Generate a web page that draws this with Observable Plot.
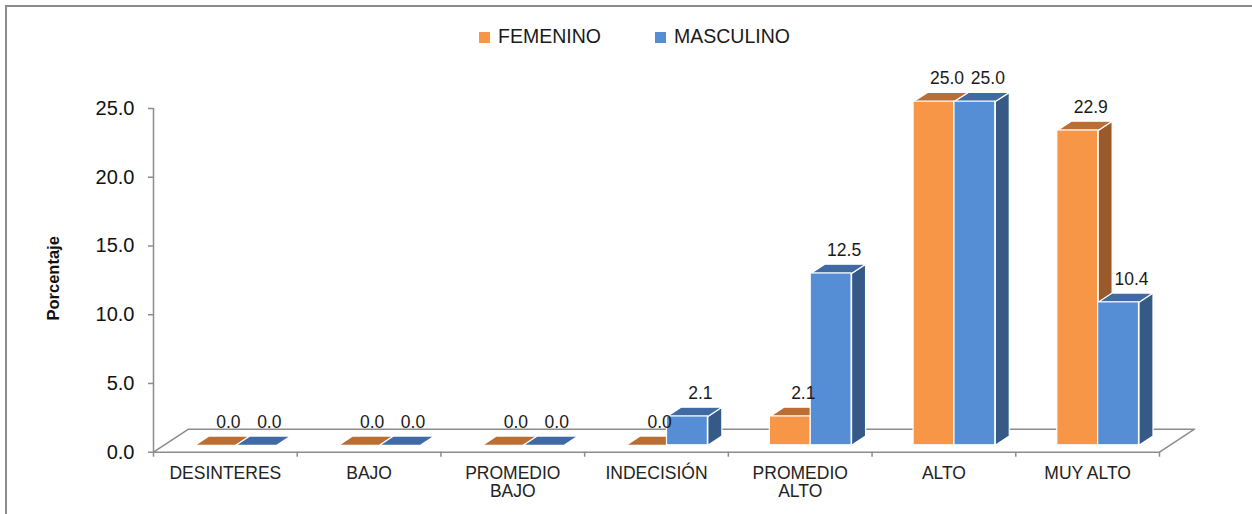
<!DOCTYPE html>
<html>
<head>
<meta charset="utf-8">
<script src="https://cdn.jsdelivr.net/npm/d3@7"></script>
<script src="https://cdn.jsdelivr.net/npm/@observablehq/plot@0.6"></script>
<style>
  html, body { margin: 0; padding: 0; background: #fff; }
  #wrap { position: relative; width: 1252px; height: 514px; overflow: hidden; font-family: "Liberation Sans", Arial, sans-serif; }
  #frame { position: absolute; left: 5px; top: 5px; width: 1300px; height: 600px; border-left: 2px solid #8c8c8c; border-top: 2px solid #8c8c8c; box-sizing: border-box; pointer-events: none; }
  #chart { position: absolute; left: 0; top: 0; }
  .leg { position: absolute; top: 27px; display: flex; align-items: center; font-size: 19.5px; line-height: 19px; color: #1a1a1a; white-space: nowrap; }
  .leg .sw { width: 11px; height: 11px; margin-right: 8px; margin-top: 1px; }
</style>
</head>
<body>
<div id="wrap">
  <div id="chart"></div>
  <div id="legend"></div>
  <div id="frame"></div>
</div>
<script>
// ---- data ----
const categories = ["DESINTERES", "BAJO", "PROMEDIO\nBAJO", "INDECISIÓN", "PROMEDIO\nALTO", "ALTO", "MUY ALTO"];
const series = ["FEMENINO", "MASCULINO"];
const femenino = [0.0, 0.0, 0.0, 0.0, 2.1, 25.0, 22.9];
const masculino = [0.0, 0.0, 0.0, 2.1, 12.5, 25.0, 10.4];
const yTicks = [0, 5, 10, 15, 20, 25];
const yLabel = "Porcentaje";

// ---- style ----
const frontColors = ["#F79646", "#558ED5"];
const topColors = ["#BA6E33", "#3F6AA4"];
const rightColors = ["#9A5A2A", "#365A88"];
const GRID = "#8c8c8c";
const W = 1252, H = 514;
const M = {left: 153, right: 93, top: 108, bottom: 62.3};
const yMax = yTicks[yTicks.length - 1];
const xDomain = [-0.5, categories.length - 0.5];

// pixel -> data unit converters (for 3D depth look)
const xu = (W - M.left - M.right) / categories.length;
const yu = (H - M.top - M.bottom) / yMax;
const px = p => p / xu, py = p => p / yu;
const FX = px(10.5), FY = py(6.9);   // bar front offset into depth
const DX = px(14), DY = py(9.2);     // bar depth
const BW = px(40.85);                // bar width
const FLX = px(35), FLY = py(23);    // floor depth

const valuesBySeries = [femenino, masculino];
const bars = [];
series.forEach((s, si) => {
  valuesBySeries[si].forEach((v, i) => {
    const x1 = i + (si === 0 ? -BW : 0) + FX;
    bars.push({s, si, i, v, x1, x2: x1 + BW, y1: FY, y2: v + FY});
  });
});

const rightPts = si => bars.filter(b => b.si === si).flatMap(b => [
  {id: b.i, x: b.x2, y: b.y1},
  {id: b.i, x: b.x2 + DX, y: b.y1 + DY},
  {id: b.i, x: b.x2 + DX, y: b.y2 + DY},
  {id: b.i, x: b.x2, y: b.y2}
]);
const topPts = si => bars.filter(b => b.si === si).flatMap(b => [
  {id: b.i, x: b.x1, y: b.y2},
  {id: b.i, x: b.x2, y: b.y2},
  {id: b.i, x: b.x2 + DX, y: b.y2 + DY},
  {id: b.i, x: b.x1 + DX, y: b.y2 + DY}
]);
const floorPts = [
  {x: xDomain[0], y: 0},
  {x: xDomain[1], y: 0},
  {x: xDomain[1] + FLX, y: FLY},
  {x: xDomain[0] + FLX, y: FLY}
];
const boundaries = d3.range(categories.length + 1).map(k => k - 0.5);
const catIdx = categories.map((c, i) => i);
const fmt = d3.format(".1f");

const barMarks = series.flatMap((s, si) => [
  Plot.line(rightPts(si), {x: "x", y: "y", z: "id", curve: "linear-closed", fill: rightColors[si], stroke: "white", strokeWidth: 1.2, strokeLinejoin: "round"}),
  Plot.line(topPts(si), {x: "x", y: "y", z: "id", curve: "linear-closed", fill: topColors[si], stroke: "white", strokeWidth: 1.2, strokeLinejoin: "round"}),
  Plot.rect(bars.filter(b => b.si === si), {x1: "x1", x2: "x2", y1: "y1", y2: "y2", fill: frontColors[si], stroke: "white", strokeWidth: 1.2})
]);

const chart = Plot.plot({
  width: W,
  height: H,
  marginLeft: M.left,
  marginRight: M.right,
  marginTop: M.top,
  marginBottom: M.bottom,
  style: {fontFamily: "'Liberation Sans', Arial, sans-serif", background: "transparent", overflow: "visible"},
  x: {type: "linear", domain: xDomain},
  y: {type: "linear", domain: [0, yMax]},
  marks: [
    Plot.line(floorPts, {x: "x", y: "y", curve: "linear-closed", fill: "none", stroke: GRID, strokeWidth: 1.5}),
    Plot.ruleX([xDomain[0]], {y1: 0, y2: yMax, stroke: GRID, strokeWidth: 1.5}),
    Plot.axisY({ticks: yTicks, tickFormat: fmt, tickSize: 5, tickPadding: 14, fontSize: 20, stroke: GRID, strokeWidth: 1.5, fill: "#111", label: null}),
    Plot.axisX({ticks: boundaries, tickSize: 5, tickFormat: () => "", stroke: GRID, strokeWidth: 1.5, label: null}),
    Plot.text(catIdx, {x: d => d, y: 0, text: d => categories[d], lineAnchor: "top", dy: 13.5, fontSize: 17.5, lineHeight: 1.05, fill: "#222"}),
    Plot.text([yLabel], {frameAnchor: "left", text: d => d, rotate: -90, dx: -100, dy: -2, textAnchor: "middle", fontWeight: "bold", fontSize: 16.5, fill: "#111"}),
    ...barMarks,
    Plot.text(bars, {x: b => (b.x1 + b.x2) / 2 + DX / 2, y: b => b.y2 + DY, text: b => fmt(b.v), dx: 6, dy: -14, fontSize: 17.5, fill: "#1a1a1a"})
  ]
});
document.getElementById("chart").appendChild(chart);

// legend (HTML, above the svg area)
const legendLeft = [479, 655];
const legend = document.getElementById("legend");
series.forEach((s, si) => {
  const item = document.createElement("div");
  item.className = "leg";
  item.style.left = legendLeft[si] + "px";
  const sw = document.createElement("span");
  sw.className = "sw";
  sw.style.background = frontColors[si];
  const t = document.createElement("span");
  t.textContent = s;
  item.appendChild(sw);
  item.appendChild(t);
  legend.appendChild(item);
});
</script>
</body>
</html>
